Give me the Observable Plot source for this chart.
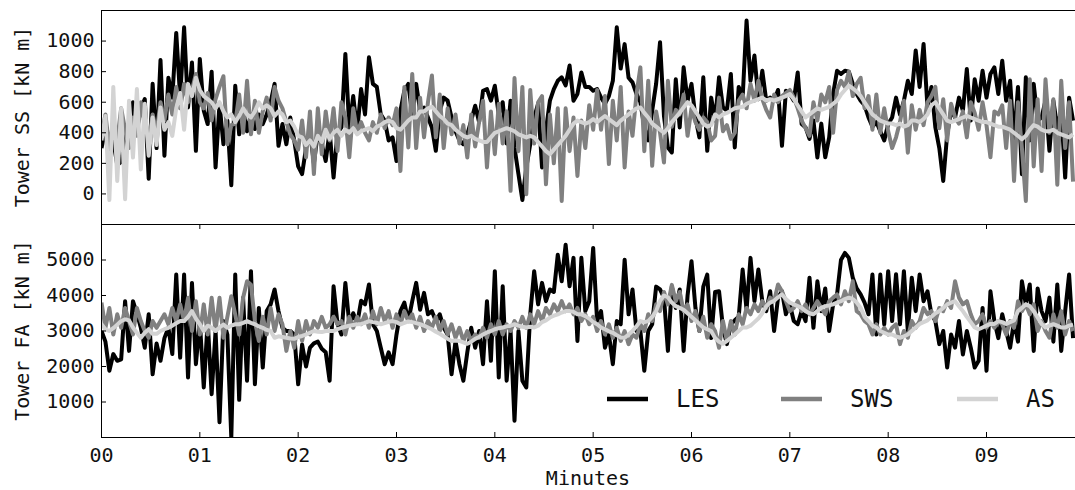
<!DOCTYPE html>
<html>
<head>
<meta charset="utf-8">
<script src="https://cdn.jsdelivr.net/npm/d3@7"></script>
<script src="https://cdn.jsdelivr.net/npm/@observablehq/plot@0.6"></script>
<style>
  html, body { margin: 0; padding: 0; background: #fff; }
  #wrap { position: relative; width: 1075px; height: 490px; overflow: hidden; font-family: "DejaVu Sans Mono", monospace; }
  #wrap svg { position: absolute; left: 0; }
</style>
</head>
<body>
<div id="wrap"></div>
<script>
// ---------------- data ----------------
const stepMinutes = 0.04; // sample spacing of every series (minutes)
const xTickValues = [0, 1, 2, 3, 4, 5, 6, 7, 8, 9];
const ssTickValues = [0, 200, 400, 600, 800, 1000];
const faTickValues = [1000, 2000, 3000, 4000, 5000];
const seriesNames = ["LES", "SWS", "AS"];
const seriesColors = ["#000000", "#808080", "#d3d3d3"];
const ssLabel = "Tower SS [kN m]";
const faLabel = "Tower FA [kN m]";
const xLabel = "Minutes";

// Tower side-side moment [kN m]
const lesSS = [300,420,280,350,190,210,400,330,600,420,
560,620,100,720,300,876,250,760,630,1053,
630,1090,566,860,282,883,545,457,800,173,
590,325,480,57,708,390,545,410,520,425,
520,457,520,600,720,315,457,325,500,350,
180,130,300,410,200,400,325,215,410,107,
400,435,916,435,640,410,686,
520,894,720,700,520,480,350,370,215,545,
675,720,520,720,545,565,500,435,282,545,
630,610,500,410,350,325,390,480,577,470,
675,686,610,708,520,600,330,610,304,130,
-40,173,325,500,590,173,420,610,686,740,
763,710,840,610,654,795,700,700,675,686,
630,590,640,740,1090,820,980,760,730,654,
600,435,350,545,720,993,510,304,271,750,
435,828,610,720,500,370,763,282,630,
480,763,566,545,785,304,700,630,1134,740,
905,620,806,610,630,610,680,315,675,654,
610,795,457,435,360,480,238,460,240,370,
654,806,785,806,800,720,654,610,580,500,
440,470,410,350,457,500,630,520,610,740,
654,938,700,981,566,700,435,300,85,390,
545,500,630,545,817,480,750,610,806,630,
785,828,654,872,610,740,350,700,129,763,
350,720,480,500,610,282,610,435,545,107,
630,480];

const swsSS = [380,520,300,480,350,560,420,300,500,380,
600,450,350,520,400,600,480,650,520,700,
560,720,600,680,785,600,560,660,480,620,
700,770,325,450,460,650,400,740,390,610,
400,540,630,480,700,610,560,470,390,350,
290,480,240,540,130,560,260,540,350,560,
280,600,500,240,560,400,470,
400,350,470,400,520,430,500,450,560,150,
700,304,785,300,630,370,600,775,370,650,
300,560,390,520,330,450,238,520,310,470,
610,173,540,260,590,330,540,20,758,280,
700,-2,680,330,600,640,63,520,200,560,
-46,560,280,500,118,480,300,580,420,680,
420,640,195,610,350,700,173,540,380,650,
828,280,740,184,540,400,205,740,440,550,
520,650,380,560,470,420,500,470,350,
380,630,410,450,360,400,610,650,560,720,
610,740,620,550,500,650,600,640,660,680,
630,560,480,430,380,600,480,650,600,700,
400,680,740,700,800,640,720,760,560,640,
420,650,400,560,410,300,370,470,610,270,
580,420,550,450,600,640,700,430,620,350,
590,500,460,540,370,600,530,420,600,450,
240,540,520,580,300,610,85,600,300,-46,
750,180,620,150,750,400,620,60,740,300,
600,80];

const asSS = [350,510,-40,700,85,560,-35,610,238,686,
160,590,250,500,320,566,420,470,380,560,
660,420,720,640,760,680,640,620,600,560,
600,540,500,520,470,510,560,520,500,540,
600,560,580,560,510,540,520,470,480,440,
380,370,320,350,310,380,340,420,360,400,
420,380,420,400,430,390,410,
420,430,410,440,450,470,480,470,430,420,
450,480,500,500,540,540,560,570,540,510,
490,460,450,420,400,380,370,380,360,350,
340,340,370,400,410,420,430,420,410,390,
380,370,380,370,340,310,280,260,290,320,
350,380,420,460,480,470,460,470,490,470,
490,510,490,470,450,480,500,520,540,560,
566,530,500,460,440,420,400,430,470,500,
530,566,600,580,540,500,460,440,450,
520,500,520,530,545,560,565,570,590,600,
610,620,630,610,620,610,620,630,640,654,
620,580,540,500,520,540,560,550,560,570,
590,610,650,680,708,690,670,640,600,560,
520,500,480,470,460,460,450,460,440,450,
480,480,470,490,520,580,600,560,520,480,
470,480,490,500,510,500,490,480,470,470,
460,450,440,440,430,420,400,380,358,380,
420,450,440,420,410,410,420,400,390,380,
370,390];

// Tower fore-aft moment [kN m]
const lesFA = [3000,2700,1880,2350,2160,2200,3840,2440,3840,3500,
3090,2530,3470,1780,2650,2160,2800,3090,2350,4590,
2250,4590,1690,4355,2065,3280,1410,3280,1220,3000,
430,3280,2900,0,4590,1060,3935,1600,4685,1500,
3650,1970,3560,3750,4170,3560,3090,3000,3000,2900,
1500,2620,2000,2530,2650,2700,2500,2400,1600,4260,
3200,2900,4355,3200,3500,3200,3850,
3750,4310,3190,3000,2530,2065,2400,2065,2900,3560,
3800,3280,3840,4355,3600,4075,3470,3560,3280,3470,
3090,2900,1780,2720,2065,1600,2400,3090,2530,3000,
2065,3840,2160,4685,1690,4260,1600,3000,475,3000,
1600,1410,3470,4685,3750,4355,3840,4170,4100,5150,
4400,5430,4260,5060,2720,5060,3560,3840,5340,3280,
3560,2530,2900,2065,3280,3190,5010,3470,4170,3000,
3000,1880,3000,3190,4250,4170,3940,2440,4250,3650,
4170,2440,4000,4965,3650,3000,4250,4590,2800,
4100,4120,3090,2630,3190,3300,3400,4730,3600,5060,
3840,4730,3840,3560,4120,3000,3940,4120,3470,3750,
3280,3190,3560,3280,4500,3090,4400,3560,4200,3000,
3750,4030,5000,5200,5060,4500,4200,4030,3800,3470,
4590,2900,4590,3190,4685,3280,4600,3190,4685,3000,
4500,3560,4590,3840,4120,3470,3280,2630,3000,1970,
2900,2530,3280,2340,3000,2530,1970,2160,3650,1880,
4120,3280,2800,3470,3000,2530,3280,2700,4400,3750,
4310,2440,4200,3560,3280,3940,2700,4310,2440,3560,
4590,2800];

const swsFA = [3800,3090,3650,2900,3470,3090,3650,3280,2900,3650,
3280,3000,2810,3280,3090,3280,3470,3190,3650,3280,
3750,3280,3935,3000,3840,2900,3750,2900,3935,3000,
3935,2810,3400,3980,3470,2900,3935,4400,4300,3280,
2720,3400,2900,3650,3000,3470,3190,2440,3000,2530,
3280,2720,3280,2900,3280,3090,3400,3090,3190,3400,
3190,3280,2900,3400,3090,3400,3190,
3470,3090,3560,3190,3650,3280,3560,3090,3470,3190,
3560,3280,3470,3090,3400,3000,3280,3090,3400,3000,
3280,2900,3190,2810,3090,2720,3000,2720,2900,2810,
3090,2810,3190,2900,3280,2900,3190,3000,3280,3090,
3400,3090,3470,3190,3560,3280,3650,3470,3750,3560,
3840,3560,3750,3470,3650,3280,3470,3190,3400,3000,
3280,2900,3190,2810,3090,2720,3000,2630,2900,2810,
3190,3000,3470,3280,3750,3560,4100,3750,4300,3840,
4100,3560,3750,3280,3560,3000,3400,2810,3190,
3000,2530,3280,2720,3280,2900,3470,3190,3650,3470,
3750,3560,3840,3650,3940,3840,4310,4120,3840,3560,
3650,3840,3560,3750,3470,3650,3840,3650,3470,3840,
3940,4030,3750,4120,3840,4400,3560,3470,3280,3190,
2900,3190,2900,3090,2900,3090,3190,2630,3000,2810,
3280,3090,3280,3650,3470,3560,3280,3650,3560,3840,
3650,4400,3940,3750,3840,3470,3190,3280,3470,3090,
3280,3090,3280,3190,2900,3280,3090,3840,3560,3750,
3470,3750,3000,3280,3000,2810,3470,3090,3560,2900,
3280,3000];

const asFA = [3190,3050,3000,3080,3180,3280,3330,3300,3100,2950,
2810,2950,3050,2920,2920,3000,3050,3090,3150,3220,
3280,3280,3400,3560,3350,3190,3000,3150,3100,3000,
3100,3180,3090,3150,3190,3190,3230,3280,3230,3190,
3130,3090,3030,3000,2810,2850,2830,2810,2790,2780,
2830,2860,2900,2950,3000,2980,2970,3000,3000,3000,
3050,3090,3120,3150,3170,3190,3200,
3230,3280,3250,3230,3190,3220,3260,3280,3250,3190,
3230,3270,3250,3220,3190,3150,3100,3050,2980,2920,
2850,2780,2720,2730,2720,2680,2640,2700,2780,2830,
2900,2960,3000,3050,3080,3100,3130,3150,3190,3150,
3120,3100,3120,3100,3150,3250,3300,3380,3430,3470,
3520,3560,3560,3540,3470,3470,3420,3350,3250,3190,
3100,3050,2990,2950,2880,2820,2810,2900,3000,3130,
3280,3250,3280,3400,3560,3850,4000,3950,3800,3700,
3650,3600,3500,3400,3300,3200,3100,3050,3000,
2800,2700,2640,2720,2810,2900,3000,3100,3100,3150,
3250,3350,3500,3700,3800,3850,3950,4030,3900,3800,
3750,3700,3650,3560,3500,3470,3560,3650,3700,3720,
3750,3800,3840,3900,3940,3900,3800,3650,3400,3280,
3150,3100,3000,2950,2900,2900,2850,2810,2850,2900,
3000,3100,3200,3250,3300,3400,3500,3560,3650,3750,
3800,3840,3700,3560,3400,3250,3100,3050,3100,3150,
3200,3200,3280,3250,3200,3250,3300,3560,3650,3750,
3700,3560,3380,3200,3100,3150,3190,3150,3100,3100,
3150,3180];

// ---------------- rendering ----------------
const FONT = '"DejaVu Sans Mono", monospace';
const TEXT_COLOR = "#111";
const W = 1075, ML = 101, MR = 0;
const xDomain = [0, 9.905];
const TICK = 5;
const LW = 4;
const plainNumber = d => String(d);

const toRows = (vals, name) => vals.map((v, i) => ({minute: i * stepMinutes, value: v, series: name}));

function seriesLines(arrays) {
  return arrays.map((vals, k) =>
    Plot.line(toRows(vals, seriesNames[k]), {
      x: "minute", y: "value", stroke: seriesColors[k], strokeWidth: LW,
      strokeLinejoin: "round", strokeLinecap: "butt", clip: true
    })
  );
}

const wrap = document.getElementById("wrap");

// top panel: side-side
const topH = 225, topMT = 10, topMB = 1;
const topInner = W - ML - MR;
const topPlot = Plot.plot({
  width: W, height: topH,
  marginTop: topMT, marginBottom: topMB, marginLeft: ML, marginRight: MR,
  style: {fontFamily: FONT, fontSize: "20px", color: TEXT_COLOR, background: "transparent", overflow: "visible"},
  x: {domain: xDomain, axis: null},
  y: {domain: [-200, 1200]},
  marks: [
    ...seriesLines([lesSS, swsSS, asSS]),
    Plot.ruleX([xDomain[0]], {stroke: "#000", strokeWidth: 1}),
    Plot.ruleY([1200, -200], {stroke: "#000", strokeWidth: 1}),
    Plot.tickY(ssTickValues, {stroke: "#000", strokeWidth: 1, insetRight: topInner - TICK}),
    Plot.axisY({ticks: ssTickValues, tickFormat: plainNumber, tickSize: 0, tickPadding: 7, label: null, fill: TEXT_COLOR})
  ]
});
topPlot.style.top = "0px";
wrap.appendChild(topPlot);

// bottom panel: fore-aft
const botTop = 224, botH = 266, botMB = 53;
const botFrameH = botH - botMB;
const botPlot = Plot.plot({
  width: W, height: botH,
  marginTop: 0, marginBottom: botMB, marginLeft: ML, marginRight: MR,
  style: {fontFamily: FONT, fontSize: "20px", color: TEXT_COLOR, background: "transparent", overflow: "visible"},
  x: {domain: xDomain},
  y: {domain: [0, 6000]},
  marks: [
    ...seriesLines([lesFA, swsFA, asFA]),
    Plot.ruleX([xDomain[0]], {stroke: "#000", strokeWidth: 1}),
    Plot.ruleY([6000, 0], {stroke: "#000", strokeWidth: 1}),
    Plot.tickY(faTickValues, {stroke: "#000", strokeWidth: 1, insetRight: topInner - TICK}),
    Plot.tickX(xTickValues, {stroke: "#000", strokeWidth: 1, insetTop: botFrameH - TICK}),
    Plot.tickX(xTickValues, {stroke: "#000", strokeWidth: 1, insetBottom: botFrameH - TICK}),
    Plot.axisY({ticks: faTickValues, tickFormat: plainNumber, tickSize: 0, tickPadding: 7, label: null, fill: TEXT_COLOR}),
    Plot.axisX({ticks: xTickValues, tickSize: 0, tickPadding: 10, label: null, fill: TEXT_COLOR,
                tickFormat: d => String(d).padStart(2, "0")})
  ]
});
botPlot.style.top = botTop + "px";
wrap.appendChild(botPlot);

// overlay: axis titles and legend
const overlay = d3.select(wrap).append("svg")
  .attr("width", W).attr("height", 490)
  .style("top", "0px").style("pointer-events", "none")
  .attr("font-family", FONT).attr("fill", TEXT_COLOR);

const yTitles = [
  {text: ssLabel, cy: (topMT + (topH - topMB)) / 2},
  {text: faLabel, cy: botTop + botFrameH / 2}
];
overlay.selectAll("text.ytitle").data(yTitles).join("text")
  .attr("class", "ytitle")
  .attr("transform", d => `translate(22,${d.cy}) rotate(-90)`)
  .attr("text-anchor", "middle").attr("dy", "0.35em")
  .attr("font-size", 20)
  .text(d => d.text);

overlay.append("text")
  .attr("x", ML + (W - ML - MR) / 2).attr("y", 478)
  .attr("text-anchor", "middle").attr("dy", "0.35em")
  .attr("font-size", 20)
  .text(xLabel);

// legend (lower right, inside the bottom panel)
const legendY = 399;
const legendStarts = [607, 781, 957];
const handleLen = 41, textGap = 28;
const lg = overlay.append("g");
seriesNames.forEach((name, k) => {
  const x0 = legendStarts[k];
  lg.append("line")
    .attr("x1", x0).attr("x2", x0 + handleLen)
    .attr("y1", legendY).attr("y2", legendY)
    .attr("stroke", seriesColors[k]).attr("stroke-width", LW + 0.5);
  lg.append("text")
    .attr("x", x0 + handleLen + textGap).attr("y", legendY)
    .attr("dy", "0.35em").attr("font-size", 24)
    .text(name);
});
</script>
</body>
</html>
